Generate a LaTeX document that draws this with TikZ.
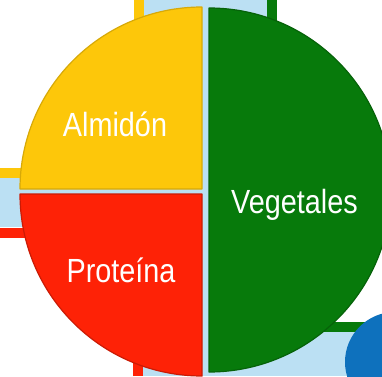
\documentclass[tikz,border=0pt]{standalone}
\usepackage{fontspec}
\usepackage{xcolor}
\newfontfamily\platefont[FakeStretch=0.86]{Liberation Sans}
\definecolor{almidonyellow}{HTML}{FDC70A}
\definecolor{proteinred}{HTML}{FE2206}
\definecolor{vegegreen}{HTML}{077A0B}
\definecolor{bandblue}{HTML}{BBE0F3}
\definecolor{dotblue}{HTML}{0E71BD}
\begin{document}
\begin{tikzpicture}[
    x=1pt, y=1pt,
    band/.style={fill=bandblue},
    bar/.style={line width=10pt},
    piece/.style={line width=1.2pt, line join=round},
    lbl/.style={text=white, anchor=base, inner sep=0pt, font=\platefont\fontsize{33.5}{36}\selectfont}
]
\clip (0,0) rectangle (382,376);
\useasboundingbox (0,0) rectangle (382,376);
\fill[white] (0,0) rectangle (382,376);
\fill[band] (143,0) rectangle (267,376);
\fill[band] (0,149) rectangle (267,198);
\fill[band] (143,0) rectangle (382,44);
\draw[bar, almidonyellow] (138.5,376) -- (138.5,198);
\draw[bar, almidonyellow] (0,203) -- (143,203);
\draw[bar, proteinred] (0,143.5) -- (143,143.5);
\draw[bar, proteinred] (138,0) -- (138,49);
\draw[bar, vegegreen] (271.5,376) -- (271.5,300);
\draw[bar, vegegreen] (260,49) -- (382,49);
\draw[piece, fill=almidonyellow, draw=almidonyellow!85!black]
  (202,187) -- (20,187) arc[start angle=180, end angle=90, radius=182] -- cycle;
\draw[piece, fill=proteinred, draw=proteinred!80!black]
  (202,182) -- (20,182) arc[start angle=180, end angle=270, radius=182] -- cycle;
\draw[piece, fill=vegegreen, draw=vegegreen!80!black]
  (209,368) arc[start angle=90, end angle=-90, radius=182] -- cycle;
\fill[dotblue] (395,14) circle[radius=50];
\node[lbl] (almidon) at (115,240) {Almidón};
\node[lbl] (vegetales) at (294.5,163) {Vegetales};
\node[lbl] (proteina) at (121,94) {Proteína};
\end{tikzpicture}
\end{document}
